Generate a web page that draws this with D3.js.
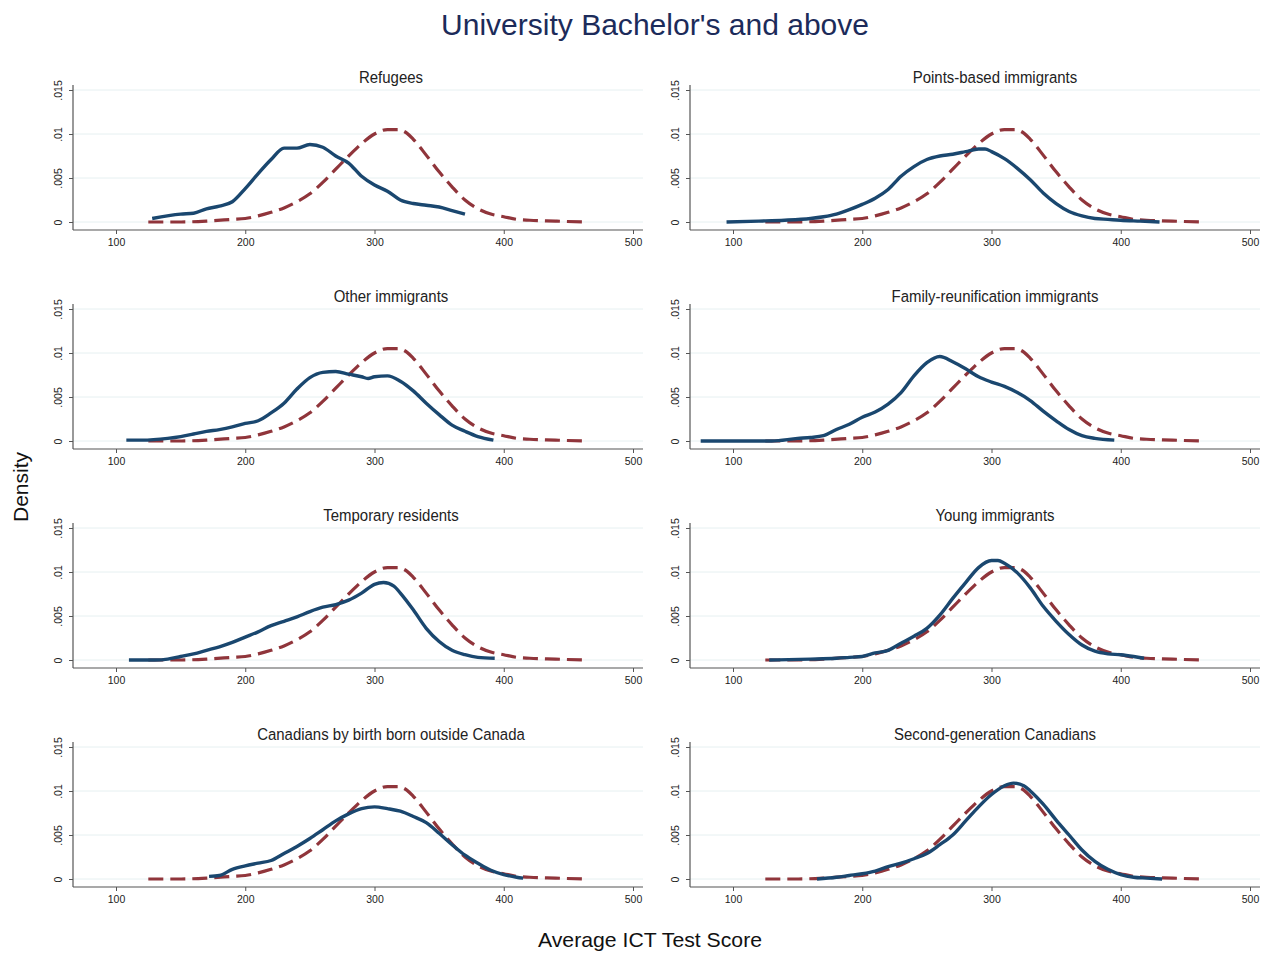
<!DOCTYPE html>
<html>
<head>
<meta charset="utf-8">
<script src="https://cdn.jsdelivr.net/npm/d3@7"></script>
<style>
  body { margin: 0; background: #fff; }
  text { font-family: "Liberation Sans", Arial, sans-serif; }
</style>
</head>
<body>
<div id="viz"></div>
<script>
// Panel titles, in reading order (left to right, top to bottom)
const panelTitles = [
  "Refugees", "Points-based immigrants",
  "Other immigrants", "Family-reunification immigrants",
  "Temporary residents", "Young immigrants",
  "Canadians by birth born outside Canada", "Second-generation Canadians"
];

const xTicks = [100, 200, 300, 400, 500];
const yTicks = [0, 0.005, 0.01, 0.015];
const yTickLabels = ["0", ".005", ".01", ".015"];

// Comparison curve (dashed), same in every panel: [score, density]
const reference = [
  [125, 0], [150, 0], [170, 0.0001], [190, 0.0003], [200, 0.0004], [210, 0.0007],
  [220, 0.0011], [230, 0.0016], [240, 0.0023], [250, 0.0032], [260, 0.0045],
  [270, 0.0060], [280, 0.0075], [290, 0.0089], [300, 0.0100], [310, 0.0105],
  [318, 0.0105], [325, 0.0101], [330, 0.0094], [340, 0.0076], [350, 0.0057],
  [360, 0.0040], [370, 0.0025], [380, 0.0015], [390, 0.0009], [400, 0.0006],
  [410, 0.0003], [420, 0.0002], [440, 0.0001], [462, 0]
];

// Group curves (solid)
const refugees = [
  [128, 0.0004], [150, 0.0009], [160, 0.0010], [170, 0.0015], [180, 0.0018],
  [190, 0.0023], [200, 0.0038], [210, 0.0055], [220, 0.0071], [230, 0.0084],
  [240, 0.0084], [250, 0.0088], [260, 0.0085], [270, 0.0075], [280, 0.0067],
  [290, 0.0052], [300, 0.0042], [310, 0.0035], [320, 0.0025], [330, 0.0021],
  [340, 0.0019], [350, 0.0017], [360, 0.0013], [370, 0.0009]
];
const pointsBased = [
  [95, 0], [120, 0.0001], [140, 0.0002], [160, 0.0004], [170, 0.0006],
  [180, 0.0009], [190, 0.0014], [200, 0.0020], [210, 0.0027], [220, 0.0037],
  [230, 0.0052], [240, 0.0063], [250, 0.0071], [260, 0.0075], [270, 0.0077],
  [280, 0.0080], [290, 0.0083], [295, 0.0083], [300, 0.0080], [310, 0.0072],
  [320, 0.0061], [330, 0.0048], [340, 0.0033], [350, 0.0021], [360, 0.0012],
  [370, 0.0007], [380, 0.0004], [390, 0.0003], [400, 0.0002], [415, 0.0001], [430, 0]
];
const otherImmigrants = [
  [108, 0.0001], [120, 0.0001], [140, 0.0003], [150, 0.0005], [160, 0.0008],
  [170, 0.0011], [180, 0.0013], [190, 0.0016], [200, 0.0020], [210, 0.0023],
  [220, 0.0032], [230, 0.0043], [240, 0.0059], [250, 0.0072], [260, 0.0078],
  [270, 0.0079], [280, 0.0076], [290, 0.0073], [295, 0.0071], [300, 0.0073],
  [310, 0.0074], [320, 0.0068], [330, 0.0057], [340, 0.0043], [350, 0.0030],
  [360, 0.0018], [370, 0.0011], [380, 0.0005], [392, 0.0001]
];
const familyReunification = [
  [75, 0], [100, 0], [130, 0], [150, 0.0003], [160, 0.0004], [170, 0.0006],
  [180, 0.0013], [190, 0.0019], [200, 0.0027], [210, 0.0033], [220, 0.0042],
  [230, 0.0055], [240, 0.0074], [250, 0.0089], [260, 0.0096], [270, 0.0090],
  [280, 0.0082], [290, 0.0073], [300, 0.0067], [310, 0.0062], [320, 0.0055],
  [330, 0.0046], [340, 0.0034], [350, 0.0023], [360, 0.0013], [370, 0.0006],
  [380, 0.0003], [395, 0.0001]
];
const temporaryResidents = [
  [110, 0], [130, 0], [140, 0.0001], [150, 0.0004], [160, 0.0007], [170, 0.0011],
  [180, 0.0015], [190, 0.0020], [200, 0.0026], [210, 0.0032], [220, 0.0039],
  [230, 0.0044], [240, 0.0049], [250, 0.0055], [260, 0.0060], [270, 0.0063],
  [280, 0.0068], [290, 0.0076], [300, 0.0086], [307, 0.0088], [315, 0.0084],
  [320, 0.0076], [330, 0.0057], [340, 0.0036], [350, 0.0021], [360, 0.0011],
  [370, 0.0006], [380, 0.0003], [393, 0.0002]
];
const youngImmigrants = [
  [128, 0], [160, 0.0001], [180, 0.0002], [190, 0.0003], [200, 0.0004],
  [210, 0.0008], [220, 0.0011], [230, 0.0019], [240, 0.0027], [250, 0.0036],
  [260, 0.0051], [270, 0.0070], [280, 0.0088], [290, 0.0105], [300, 0.0113],
  [305, 0.0113], [310, 0.0110], [320, 0.0099], [330, 0.0082], [340, 0.0061],
  [350, 0.0044], [360, 0.0029], [370, 0.0017], [380, 0.0010], [390, 0.0007],
  [400, 0.0006], [410, 0.0004], [418, 0.0002]
];
const bornOutside = [
  [172, 0.0003], [180, 0.0004], [190, 0.0011], [200, 0.0015], [210, 0.0018],
  [220, 0.0021], [230, 0.0029], [240, 0.0037], [250, 0.0046], [260, 0.0056],
  [270, 0.0066], [280, 0.0074], [290, 0.0080], [300, 0.0082], [310, 0.0080],
  [320, 0.0077], [330, 0.0071], [340, 0.0064], [350, 0.0052], [360, 0.0039],
  [370, 0.0027], [380, 0.0018], [390, 0.0010], [400, 0.0005], [410, 0.0002], [415, 0.0001]
];
const secondGeneration = [
  [165, 0], [180, 0.0002], [190, 0.0004], [200, 0.0006], [210, 0.0009],
  [220, 0.0014], [230, 0.0018], [240, 0.0023], [250, 0.0029], [260, 0.0039],
  [270, 0.0050], [280, 0.0066], [290, 0.0082], [300, 0.0096], [310, 0.0106],
  [317, 0.0109], [325, 0.0106], [330, 0.0100], [340, 0.0085], [350, 0.0067],
  [360, 0.0050], [370, 0.0033], [380, 0.0020], [390, 0.0011], [400, 0.0005],
  [410, 0.0002], [420, 0.0001], [432, 0]
];

const groups = [
  refugees, pointsBased, otherImmigrants, familyReunification,
  temporaryResidents, youngImmigrants, bornOutside, secondGeneration
];

const width = 1275;
const height = 954;
const navy = "#1a476f";
const maroon = "#90353b";

const svg = d3.select("#viz")
  .append("svg")
  .attr("width", width)
  .attr("height", height);

// overall title and axis titles
svg.append("text")
  .attr("x", 655).attr("y", 35)
  .attr("text-anchor", "middle")
  .attr("font-size", 30)
  .attr("textLength", 428)
  .attr("lengthAdjust", "spacingAndGlyphs")
  .attr("fill", "#1c2b5a")
  .text("University Bachelor's and above");

svg.append("text")
  .attr("transform", "translate(28,487) rotate(-90)")
  .attr("text-anchor", "middle")
  .attr("font-size", 21)
  .attr("fill", "#111")
  .text("Density");

svg.append("text")
  .attr("x", 650).attr("y", 947)
  .attr("text-anchor", "middle")
  .attr("font-size", 21)
  .attr("textLength", 224)
  .attr("lengthAdjust", "spacingAndGlyphs")
  .attr("fill", "#111")
  .text("Average ICT Test Score");

const colLeft = [73, 690];
const titleOffset = [318, 305];
const rowZero = [222, 441, 660, 879];
const plotW = 570;

groups.forEach((series, i) => {
  const col = i % 2;
  const left = colLeft[col];
  const zero = rowZero[Math.floor(i / 2)];

  const x = d3.scaleLinear().domain([100, 500]).range([left + 43, left + 560]);
  const y = d3.scaleLinear().domain([0, 0.015]).range([zero, zero - 132]);

  const g = svg.append("g");

  // faint gridlines
  g.selectAll("line.grid")
    .data(yTicks)
    .enter().append("line")
    .attr("x1", left).attr("x2", left + plotW)
    .attr("y1", d => y(d)).attr("y2", d => y(d))
    .attr("stroke", "#e6f0f1")
    .attr("stroke-width", 1);

  // axis lines
  g.append("line")
    .attr("x1", left).attr("x2", left)
    .attr("y1", zero - 137).attr("y2", zero + 8)
    .attr("stroke", "#555").attr("stroke-width", 1.2);
  g.append("line")
    .attr("x1", left).attr("x2", left + plotW)
    .attr("y1", zero + 8).attr("y2", zero + 8)
    .attr("stroke", "#555").attr("stroke-width", 1.2);

  const xAxis = g.append("g")
    .attr("transform", `translate(0,${zero + 8})`)
    .call(d3.axisBottom(x).tickValues(xTicks).tickSize(4).tickPadding(5));
  xAxis.select(".domain").remove();
  xAxis.selectAll("line").attr("stroke", "#555");
  xAxis.selectAll("text")
    .attr("font-size", 10.5)
    .attr("fill", "#222")
    .style("font-family", "'Liberation Sans', Arial, sans-serif");

  const yAxis = g.append("g")
    .attr("transform", `translate(${left},0)`)
    .call(d3.axisLeft(y).tickValues(yTicks).tickSize(4)
      .tickFormat((d, k) => yTickLabels[k]));
  yAxis.select(".domain").remove();
  yAxis.selectAll("line").attr("stroke", "#555");
  yAxis.selectAll("text")
    .attr("transform", "rotate(-90)")
    .attr("x", 0).attr("y", -11).attr("dy", 0)
    .attr("text-anchor", "middle")
    .attr("font-size", 10.5)
    .attr("fill", "#222")
    .style("font-family", "'Liberation Sans', Arial, sans-serif");

  // panel title (slightly condensed)
  const tx = left + titleOffset[col];
  g.append("text")
    .attr("x", tx).attr("y", zero - 139)
    .attr("text-anchor", "middle")
    .attr("font-size", 17)
    .attr("fill", "#222")
    .attr("transform", `translate(${tx * 0.12},0) scale(0.88,1)`)
    .text(panelTitles[i]);

  const line = d3.line()
    .x(d => x(d[0]))
    .y(d => y(d[1]))
    .curve(d3.curveMonotoneX);

  g.append("path")
    .datum(reference)
    .attr("d", line)
    .attr("fill", "none")
    .attr("stroke", maroon)
    .attr("stroke-width", 3.2)
    .attr("stroke-dasharray", "15,7");

  g.append("path")
    .datum(series)
    .attr("d", line)
    .attr("fill", "none")
    .attr("stroke", navy)
    .attr("stroke-width", 3.4)
    .attr("stroke-linejoin", "round");
});
</script>
</body>
</html>
